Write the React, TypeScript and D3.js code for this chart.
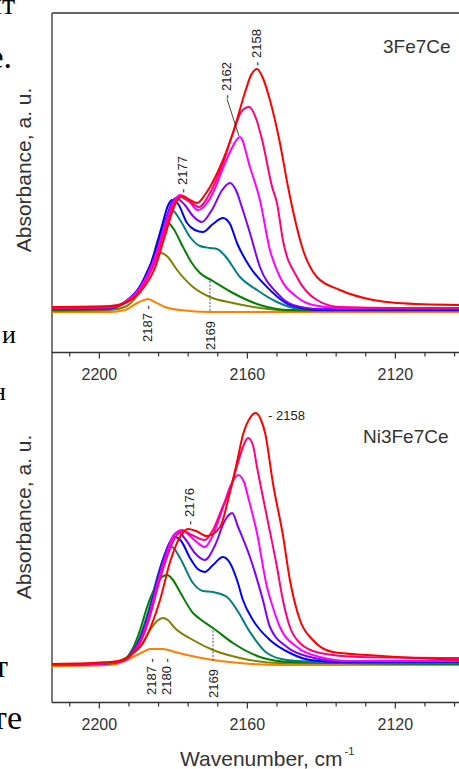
import React from 'react';
import * as d3 from 'd3';

type Pt = [number, number];

// ---------- data (wavenumber, absorbance a.u.) ----------
const SERIES_COLORS = ['#ff8000', '#808000', '#008000', '#008080', '#0000ff', '#8000ff', '#ff00ff', '#ff0080', '#ff0000'];

const top_orange: Pt[] = [[2212.8,0],[2197.1,0],[2193.1,0.02],[2189.8,0.09],[2187.9,0.12],[2186.9,0.13],[2185.0,0.10],[2182.3,0.05],[2178.2,0.02],[2170.1,0],[2102.8,0]];
const top_olive: Pt[] = [[2212.8,0.01],[2197.1,0.02],[2193.1,0.05],[2189.8,0.17],[2186.9,0.42],[2185.0,0.54],[2183.3,0.59],[2181.5,0.55],[2179.0,0.42],[2174.7,0.25],[2170.1,0.15],[2163.9,0.09],[2156.6,0.04],[2145.8,0.01],[2102.8,0.01]];
const top_green: Pt[] = [[2212.8,0.02],[2197.1,0.03],[2193.1,0.09],[2189.0,0.23],[2186.3,0.45],[2184.2,0.72],[2182.8,0.86],[2181.7,0.90],[2180.1,0.84],[2177.4,0.65],[2175.0,0.49],[2172.8,0.39],[2169.3,0.31],[2163.9,0.19],[2156.6,0.07],[2148.5,0.02],[2102.8,0.02]];
const top_teal: Pt[] = [[2212.8,0.03],[2197.1,0.04],[2193.1,0.10],[2189.0,0.25],[2185.0,0.57],[2182.8,0.84],[2181.5,0.98],[2180.4,1.02],[2178.2,0.92],[2175.5,0.75],[2172.8,0.66],[2170.1,0.64],[2168.2,0.63],[2166.0,0.56],[2162.0,0.35],[2157.4,0.22],[2152.0,0.10],[2145.8,0.03],[2102.8,0.02]];
const top_blue: Pt[] = [[2212.8,0.03],[2197.1,0.04],[2193.1,0.10],[2189.0,0.26],[2185.0,0.60],[2182.8,0.90],[2181.5,1.06],[2180.4,1.12],[2178.7,1.08],[2176.3,0.89],[2174.2,0.82],[2172.0,0.80],[2169.3,0.88],[2166.6,0.94],[2164.7,0.88],[2162.8,0.69],[2159.3,0.45],[2154.7,0.25],[2148.5,0.07],[2140.4,0.02],[2102.8,0.02]];
const top_purple: Pt[] = [[2212.8,0.03],[2197.1,0.04],[2193.1,0.10],[2189.0,0.25],[2185.0,0.56],[2182.3,0.88],[2180.4,1.10],[2179.3,1.14],[2176.9,1.07],[2174.7,0.96],[2172.3,0.90],[2169.6,1.02],[2166.8,1.22],[2164.7,1.29],[2163.1,1.22],[2161.4,1.04],[2159.3,0.79],[2156.6,0.45],[2152.0,0.19],[2147.7,0.07],[2140.4,0.03],[2102.8,0.03]];
const top_magenta: Pt[] = [[2212.8,0.04],[2197.1,0.05],[2193.1,0.10],[2189.0,0.24],[2185.0,0.54],[2182.3,0.86],[2179.6,1.12],[2178.2,1.17],[2176.0,1.12],[2173.4,1.02],[2170.9,1.09],[2168.7,1.24],[2166.8,1.42],[2164.7,1.60],[2162.0,1.75],[2159.3,1.45],[2156.6,1.12],[2153.9,0.62],[2151.2,0.35],[2146.6,0.15],[2142.3,0.07],[2135.0,0.04],[2102.8,0.04]];
const top_pink: Pt[] = [[2212.8,0.04],[2197.1,0.05],[2193.1,0.09],[2189.0,0.22],[2185.0,0.50],[2182.3,0.82],[2179.6,1.10],[2178.2,1.15],[2175.5,1.10],[2173.1,1.05],[2170.1,1.19],[2166.8,1.47],[2163.9,1.79],[2161.7,2.00],[2159.5,2.05],[2157.7,1.94],[2156.0,1.72],[2153.3,1.25],[2152.0,1.09],[2150.4,0.72],[2146.6,0.35],[2141.2,0.12],[2135.0,0.05],[2118.7,0.04],[2102.8,0.04]];
const top_red: Pt[] = [[2212.8,0.05],[2197.1,0.06],[2193.1,0.09],[2189.0,0.20],[2185.0,0.44],[2182.3,0.76],[2179.6,1.07],[2177.6,1.16],[2175.5,1.12],[2173.6,1.09],[2171.5,1.17],[2170.1,1.25],[2167.4,1.45],[2163.9,1.79],[2160.6,2.20],[2159.0,2.37],[2157.4,2.43],[2155.8,2.34],[2153.9,2.12],[2151.2,1.69],[2149.0,1.25],[2147.1,0.92],[2145.2,0.65],[2141.2,0.35],[2135.0,0.22],[2126.0,0.12],[2119.6,0.09],[2102.8,0.07]];

const bot_orange: Pt[] = [[2212.8,0],[2197.1,0.01],[2193.1,0.05],[2190.9,0.09],[2188.2,0.14],[2186.3,0.17],[2182.8,0.17],[2179.6,0.14],[2176.3,0.11],[2169.3,0.06],[2162.0,0.03],[2151.2,0.01],[2102.8,0.01]];
const bot_olive: Pt[] = [[2212.8,0.01],[2197.1,0.02],[2192.5,0.09],[2189.0,0.19],[2186.3,0.36],[2184.4,0.45],[2182.8,0.48],[2181.5,0.46],[2179.6,0.38],[2174.7,0.26],[2169.3,0.16],[2162.0,0.08],[2151.2,0.03],[2102.8,0.02]];
const bot_green: Pt[] = [[2212.8,0.01],[2197.1,0.03],[2193.1,0.07],[2190.9,0.18],[2189.0,0.36],[2187.1,0.59],[2185.0,0.78],[2183.1,0.89],[2181.7,0.91],[2180.1,0.86],[2178.2,0.74],[2174.7,0.53],[2172.8,0.47],[2169.3,0.38],[2163.9,0.23],[2156.6,0.09],[2148.5,0.04],[2102.8,0.02]];
const bot_teal: Pt[] = [[2212.8,0.01],[2197.1,0.03],[2193.1,0.06],[2191.7,0.11],[2189.0,0.30],[2186.3,0.61],[2184.2,0.91],[2182.3,1.11],[2180.4,1.19],[2178.2,1.08],[2174.7,0.83],[2172.0,0.75],[2169.3,0.74],[2165.5,0.69],[2162.8,0.56],[2159.3,0.34],[2154.7,0.13],[2149.3,0.06],[2140.4,0.04],[2102.8,0.03]];
const bot_blue: Pt[] = [[2212.8,0.01],[2197.1,0.03],[2193.1,0.06],[2191.7,0.11],[2189.0,0.27],[2186.3,0.57],[2184.2,0.88],[2182.3,1.12],[2180.9,1.24],[2179.6,1.29],[2177.9,1.25],[2175.5,1.08],[2173.4,0.97],[2171.5,0.94],[2169.3,1.01],[2166.6,1.09],[2164.7,1.03],[2162.8,0.86],[2161.2,0.66],[2158.5,0.46],[2153.9,0.26],[2148.5,0.13],[2143.0,0.06],[2135.0,0.04],[2102.8,0.04]];
const bot_purple: Pt[] = [[2212.8,0.01],[2197.1,0.03],[2193.1,0.06],[2191.7,0.11],[2189.0,0.26],[2186.3,0.55],[2184.2,0.86],[2182.3,1.10],[2180.4,1.28],[2178.7,1.34],[2176.6,1.26],[2174.2,1.13],[2171.5,1.06],[2168.7,1.21],[2166.0,1.46],[2164.1,1.53],[2162.5,1.39],[2159.3,1.09],[2155.8,0.66],[2153.9,0.39],[2149.3,0.19],[2143.0,0.09],[2135.0,0.05],[2102.8,0.05]];
const bot_magenta: Pt[] = [[2212.8,0.01],[2197.1,0.03],[2193.1,0.06],[2191.7,0.10],[2189.0,0.24],[2186.3,0.53],[2184.2,0.83],[2182.0,1.10],[2179.8,1.31],[2177.6,1.36],[2175.5,1.30],[2173.4,1.23],[2171.5,1.19],[2169.3,1.31],[2166.8,1.56],[2164.7,1.79],[2162.5,1.91],[2160.9,1.84],[2159.8,1.69],[2157.4,1.33],[2154.7,0.79],[2153.3,0.61],[2151.2,0.39],[2146.6,0.19],[2140.4,0.09],[2132.3,0.05],[2102.8,0.05]];
const bot_pink: Pt[] = [[2212.8,0.01],[2197.1,0.03],[2193.1,0.06],[2191.7,0.10],[2189.0,0.23],[2186.3,0.50],[2184.2,0.79],[2182.0,1.06],[2179.6,1.28],[2177.4,1.35],[2175.0,1.31],[2171.5,1.26],[2169.3,1.36],[2166.8,1.58],[2164.7,1.76],[2162.8,2.00],[2161.2,2.19],[2159.8,2.28],[2158.5,2.21],[2157.4,1.99],[2154.7,1.49],[2152.0,0.99],[2150.4,0.66],[2148.5,0.39],[2145.8,0.23],[2140.4,0.13],[2129.6,0.09],[2102.8,0.08]];
const bot_red: Pt[] = [[2212.8,0.02],[2197.1,0.04],[2193.1,0.07],[2190.9,0.13],[2188.2,0.23],[2185.8,0.42],[2183.6,0.66],[2180.9,1.04],[2178.2,1.29],[2176.0,1.37],[2173.9,1.35],[2170.9,1.30],[2167.4,1.39],[2164.7,1.74],[2162.8,2.04],[2161.2,2.31],[2159.3,2.48],[2157.7,2.53],[2156.3,2.46],[2155.2,2.33],[2153.1,1.83],[2150.4,1.31],[2148.5,0.86],[2145.8,0.46],[2142.3,0.26],[2136.9,0.14],[2127.7,0.11],[2114.1,0.08],[2102.8,0.06]];

const TOP_SERIES = [top_orange, top_olive, top_green, top_teal, top_blue, top_purple, top_magenta, top_pink, top_red];
const BOT_SERIES = [bot_orange, bot_olive, bot_green, bot_teal, bot_blue, bot_purple, bot_magenta, bot_pink, bot_red];

const X_TICKS = d3.range(2208, 2100, -8);
const X_MAJOR = [2200, 2160, 2120];
const PANEL_TITLES = ['3Fe7Ce', 'Ni3Fe7Ce'];
const Y_TITLE = 'Absorbance, a. u.';
const X_TITLE = 'Wavenumber, cm';

const FONT = "'Liberation Sans', Arial, Helvetica, sans-serif";
const SERIF = "'Liberation Serif', 'Times New Roman', serif";

function VLabel({ x, y, text, size = 13 }: { x: number; y: number; text: string; size?: number }) {
  return (
    <text transform={`translate(${x},${y}) rotate(-90)`} dy="0.35em" fontSize={size} fontFamily={FONT} fill="#222">
      {text}
    </text>
  );
}

export default function App() {
  const W = 459, H = 769;
  const x = d3.scaleLinear().domain([2212.8, 2102.8]).range([52, 459]);
  const yTop = d3.scaleLinear().domain([0, 3]).range([312, 12]);
  const yBot = d3.scaleLinear().domain([0, 3]).range([666, 366]);
  const axisTopY = 352.5;
  const axisBotY = 702.5;

  const lineTop = d3.line<Pt>().x(d => x(d[0])).y(d => yTop(d[1])).curve(d3.curveMonotoneX);
  const lineBot = d3.line<Pt>().x(d => x(d[0])).y(d => yBot(d[1])).curve(d3.curveMonotoneX);

  const axis = (ay: number, key: string) => (
    <g key={key}>
      <line x1={52} x2={W} y1={ay} y2={ay} stroke="#333" strokeWidth={1.3} />
      {X_TICKS.map(t => {
        const major = X_MAJOR.includes(t);
        return <line key={t} x1={x(t)} x2={x(t)} y1={ay} y2={ay + (major ? 6 : 4)} stroke="#333" strokeWidth={1.2} />;
      })}
      {X_MAJOR.map(t => (
        <text key={'l' + t} x={x(t)} y={ay + 27} textAnchor="middle" fontSize={16} fontFamily={FONT} fill="#333">{t}</text>
      ))}
    </g>
  );

  return (
    <svg width={W} height={H} style={{ position: 'absolute', left: 0, top: 0, background: '#fff' }}>
      <rect x={0} y={0} width={W} height={H} fill="#fff" />
      {/* page text fragments */}
      <g fontFamily={SERIF} fill="#000">
        <text x={15} y={14} textAnchor="end" fontSize={30}>ит</text>
        <text x={12} y={68} textAnchor="end" fontSize={34}>е.</text>
        <text x={16} y={343} textAnchor="end" fontSize={26}>и</text>
        <text x={6} y={400} textAnchor="end" fontSize={26}>н</text>
        <text x={8} y={677} textAnchor="end" fontSize={32}>т</text>
        <text x={22} y={729} textAnchor="end" fontSize={34}>те</text>
      </g>

      {/* frame */}
      <line x1={52} x2={52} y1={13} y2={axisBotY} stroke="#333" strokeWidth={1.3} />
      <line x1={52} x2={W} y1={13} y2={13} stroke="#333" strokeWidth={1.3} />
      {axis(axisTopY, 'at')}
      {axis(axisBotY, 'ab')}

      {/* spectra */}
      <g fill="none" strokeWidth={2} strokeLinejoin="round">
        {TOP_SERIES.map((s, i) => <path key={'t' + i} d={lineTop(s) || ''} stroke={SERIES_COLORS[i]} />)}
        {BOT_SERIES.map((s, i) => <path key={'b' + i} d={lineBot(s) || ''} stroke={SERIES_COLORS[i]} />)}
      </g>

      {/* top panel annotations */}
      <VLabel x={147} y={342} text="2187 -" />
      <line x1={210} x2={210} y1={281} y2={312} stroke="#555" strokeWidth={1} strokeDasharray="2,1.5" />
      <VLabel x={210} y={350} text="2169" />
      <VLabel x={182} y={193} text="- 2177" />
      <VLabel x={226} y={99} text="- 2162" />
      <line x1={227} x2={239} y1={99} y2={136} stroke="#111" strokeWidth={0.8} />
      <VLabel x={256} y={66} text="- 2158" />
      <text x={383} y={53} fontSize={19} fontFamily={FONT} fill="#333">{PANEL_TITLES[0]}</text>

      {/* bottom panel annotations */}
      <VLabel x={189} y={525} text="- 2176" />
      <text x={268} y={420} fontSize={13} fontFamily={FONT} fill="#222">- 2158</text>
      <VLabel x={151} y={695} text="2187 -" />
      <VLabel x={166} y={695} text="2180 -" />
      <line x1={213} x2={213} y1={627} y2={662} stroke="#555" strokeWidth={1} strokeDasharray="2,1.5" />
      <VLabel x={213} y={698} text="2169" />
      <text x={363} y={443} fontSize={19} fontFamily={FONT} fill="#333">{PANEL_TITLES[1]}</text>

      {/* axis titles */}
      <text transform="translate(31,170) rotate(-90)" textAnchor="middle" fontSize={21} fontFamily={FONT} fill="#333">{Y_TITLE}</text>
      <text transform="translate(31,517) rotate(-90)" textAnchor="middle" fontSize={21} fontFamily={FONT} fill="#333">{Y_TITLE}</text>
      <text x={180} y={766} fontSize={21} fontFamily={FONT} fill="#333">
        {X_TITLE}
        <tspan dx={2} dy={-11} fontSize={11}>-1</tspan>
      </text>
    </svg>
  );
}
